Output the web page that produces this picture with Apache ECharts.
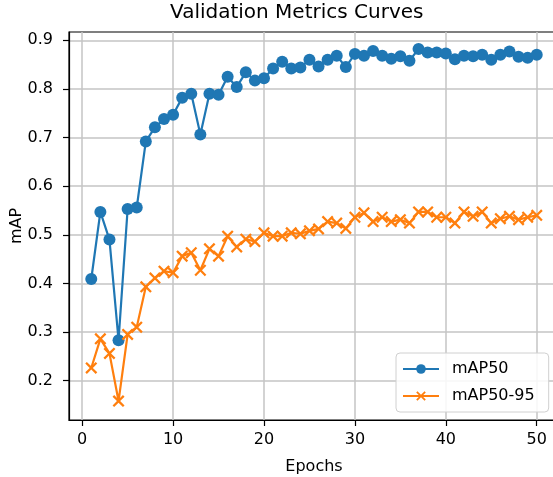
<!DOCTYPE html>
<html>
<head>
<meta charset="utf-8">
<script src="https://cdn.jsdelivr.net/npm/echarts@6/dist/echarts.min.js"></script>
<style>
  html, body { margin: 0; padding: 0; background: #fff; }
  #main { width: 553px; height: 477px; }
</style>
</head>
<body>
<div id="main"></div>
<script>
var epochs = [];
for (var e = 1; e <= 50; e++) { epochs.push(e); }

var map50 = [
	0.409, 0.547, 0.490, 0.283, 0.553, 0.556, 0.692, 0.721, 0.738, 0.747,
	0.782, 0.790, 0.706, 0.790, 0.788, 0.825, 0.804, 0.834, 0.817, 0.822,
	0.842, 0.856, 0.842, 0.844, 0.860, 0.846, 0.860, 0.868, 0.845, 0.872,
	0.868, 0.878, 0.868, 0.862, 0.867, 0.858, 0.882, 0.875, 0.875, 0.873,
	0.861, 0.868, 0.867, 0.870, 0.860, 0.870, 0.877, 0.866, 0.864, 0.870
];
var map5095 = [
	0.226, 0.286, 0.256, 0.158, 0.295, 0.310, 0.393, 0.411, 0.425, 0.422,
	0.456, 0.463, 0.427, 0.471, 0.456, 0.497, 0.475, 0.491, 0.486, 0.504,
	0.497, 0.497, 0.504, 0.502, 0.508, 0.512, 0.527, 0.524, 0.513, 0.536,
	0.545, 0.527, 0.536, 0.527, 0.531, 0.524, 0.547, 0.547, 0.536, 0.536,
	0.524, 0.547, 0.538, 0.547, 0.524, 0.533, 0.538, 0.531, 0.536, 0.540
];
var xTicks = [0, 10, 20, 30, 40, 50];
var yTicks = [0.2, 0.3, 0.4, 0.5, 0.6, 0.7, 0.8, 0.9];

var crossPath = 'path://M0,1.6L1.6,0L6,4.4L10.4,0L12,1.6L7.6,6L12,10.4L10.4,12L6,7.6L1.6,12L0,10.4L4.4,6Z';
var font = 'DejaVu Sans';

var chart = echarts.init(document.getElementById('main'), null, { renderer: 'canvas' });

chart.setOption({
	animation: false,
	backgroundColor: '#fff',
	textStyle: { fontFamily: font },
	title: {
		text: 'Validation Metrics Curves',
		left: 170,
		top: 3,
		padding: 0,
		textStyle: { fontFamily: font, fontSize: 20, fontWeight: 'normal', color: '#000' }
	},
	legend: {
		orient: 'vertical',
		left: 396,
		top: 353,
		padding: [8, 14, 8, 6],
		itemGap: 11,
		itemWidth: 36,
		itemHeight: 12,
		backgroundColor: 'rgba(255,255,255,0.85)',
		borderColor: '#d0d0d0',
		borderWidth: 1,
		borderRadius: 4,
		textStyle: { fontFamily: font, fontSize: 16, color: '#000', padding: [0, 0, 0, 8] },
		data: ['mAP50', 'mAP50-95']
	},
	grid: {
		left: 69,
		top: 32,
		width: 490,
		height: 388,
		show: true,
		borderColor: '#000',
		borderWidth: 1.2,
		containLabel: false,
		outerBoundsMode: 'none'
	},
	xAxis: {
		type: 'value',
		min: -1.45,
		max: 52.45,
		name: 'Epochs',
		nameLocation: 'middle',
		nameGap: 39,
		nameMoveOverlap: false,
		nameTextStyle: { fontFamily: font, fontSize: 16, color: '#000' },
		axisLine: { show: true, onZero: false, lineStyle: { color: '#000', width: 1.2 } },
		axisTick: { show: true, length: 6, customValues: xTicks, lineStyle: { color: '#000', width: 1.2 } },
		axisLabel: { customValues: xTicks, margin: 12, fontFamily: font, fontSize: 16, color: '#000' },
		splitLine: { show: true, lineStyle: { color: '#c4c4c4', width: 1.5 } }
	},
	yAxis: {
		type: 'value',
		min: 0.119,
		max: 0.917,
		name: 'mAP',
		nameLocation: 'middle',
		nameGap: 44,
		nameMoveOverlap: false,
		nameTextStyle: { fontFamily: font, fontSize: 16, color: '#000' },
		axisLine: { show: true, onZero: false, lineStyle: { color: '#000', width: 1.2 } },
		axisTick: { show: true, length: 6, customValues: yTicks, lineStyle: { color: '#000', width: 1.2 } },
		axisLabel: {
			customValues: yTicks, margin: 16, fontFamily: font, fontSize: 16, color: '#000',
			formatter: function (v) { return v.toFixed(1); }
		},
		splitLine: { show: true, lineStyle: { color: '#c4c4c4', width: 1.5 } }
	},
	series: [
		{
			name: 'mAP50',
			type: 'line',
			data: epochs.map(function (x, i) { return [x, map50[i]]; }),
			symbol: 'circle',
			symbolSize: 12,
			color: '#1f77b4',
			lineStyle: { width: 2.2, color: '#1f77b4' },
			itemStyle: { color: '#1f77b4' }
		},
		{
			name: 'mAP50-95',
			type: 'line',
			data: epochs.map(function (x, i) { return [x, map5095[i]]; }),
			symbol: crossPath,
			symbolSize: 12,
			color: '#ff7f0e',
			lineStyle: { width: 2.2, color: '#ff7f0e' },
			itemStyle: { color: '#ff7f0e' }
		}
	]
});
</script>
</body>
</html>
